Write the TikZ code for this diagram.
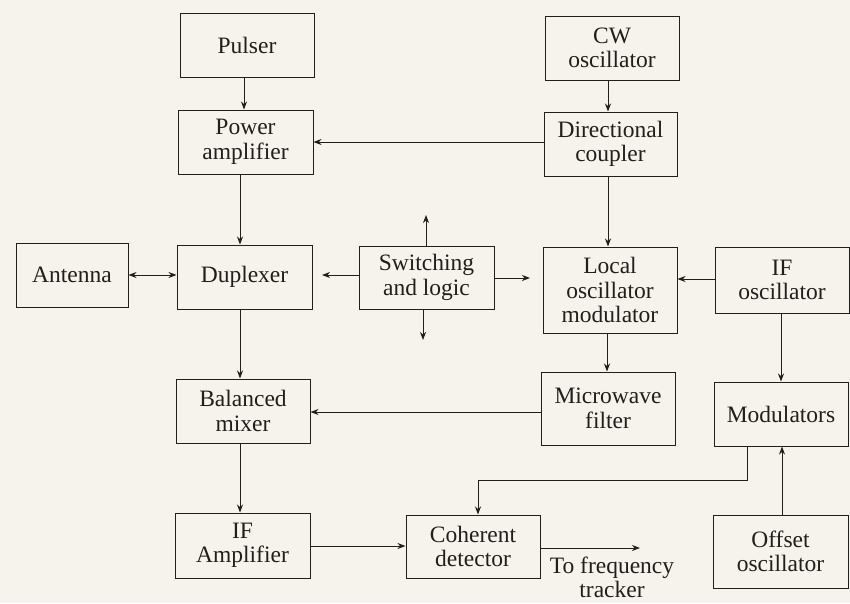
\documentclass[tikz,border=0pt]{standalone}
\usepackage{fontspec}
\setmainfont{Liberation Serif}
\usetikzlibrary{arrows.meta}
\definecolor{paper}{rgb}{0.965,0.95,0.925}
\definecolor{ink}{rgb}{0.13,0.12,0.11}
\begin{document}
\begin{tikzpicture}[x=1pt,y=-1pt,
  box/.style={draw=ink,line width=1pt,align=center,inner sep=0pt,text=ink,
    font=\fontsize{23.5}{24.5}\selectfont},
  arr/.style={draw=ink,line width=1pt,-{Stealth[length=8pt,width=6pt,inset=2.5pt]}},
  darr/.style={draw=ink,line width=1pt,{Stealth[length=8pt,width=6pt,inset=2.5pt]}-{Stealth[length=8pt,width=6pt,inset=2.5pt]}},
  ln/.style={draw=ink,line width=1pt}]
\fill[paper] (0,0) rectangle (850,603);
\useasboundingbox (0,0) rectangle (850,603);
% boxes
\node[box,minimum width=134pt,minimum height=64pt] (pulser) at (247,45) {Pulser};
\node[box,minimum width=135pt,minimum height=64pt] (pa) at (245.5,142) {Power\\amplifier};
\node[box,minimum width=135pt,minimum height=64pt] (dup) at (244.5,277) {Duplexer};
\node[box,minimum width=112pt,minimum height=64pt] (ant) at (72,275) {Antenna};
\node[box,minimum width=135pt,minimum height=63pt] (sw) at (426.5,277.5) {Switching\\and logic};
\node[box,minimum width=134pt,minimum height=64pt] (cw) at (612,48) {CW\\oscillator};
\node[box,minimum width=133pt,minimum height=64pt] (dc) at (610.5,144) {Directional\\coupler};
\node[box,minimum width=134pt,minimum height=86pt] (lom) at (610,290) {Local\\oscillator\\modulator};
\node[box,minimum width=134pt,minimum height=66pt] (ifo) at (782,280) {IF\\oscillator};
\node[box,minimum width=134pt,minimum height=73pt] (mf) at (608,408.5) {Microwave\\filter};
\node[box,minimum width=134pt,minimum height=64pt] (mod) at (781,414) {Modulators};
\node[box,minimum width=134pt,minimum height=64pt] (bm) at (243,411) {Balanced\\mixer};
\node[box,minimum width=135pt,minimum height=65pt] (ifa) at (242.5,545.5) {IF\\Amplifier};
\node[box,minimum width=134pt,minimum height=63pt] (cd) at (473,546.5) {Coherent\\detector};
\node[box,minimum width=135pt,minimum height=73pt] (oo) at (780.5,551.5) {Offset\\oscillator};
\node[box,draw=none,anchor=north,font=\fontsize{23.5}{24.5}\selectfont] (tracker) at (612,556) {To frequency\\tracker};
% free ends
\coordinate (swup) at (426,215);
\coordinate (swdown) at (423,340);
\coordinate (swleft) at (322,275);
\coordinate (swright) at (530,278);
\coordinate (trk) at (640,548);
% connectors
\draw[arr] (pulser.south -| 244,0) -- (pa.north -| 244,0);
\draw[arr] (pa.south -| 240,0) -- (dup.north -| 240,0);
\draw[darr] (ant.east) -- (dup.west |- ant.east);
\draw[arr] (dup.south -| 240,0) -- (bm.north -| 240,0);
\draw[arr] (bm.south -| 240,0) -- (ifa.north -| 240,0);
\draw[arr] (sw.north -| swup) -- (swup);
\draw[arr] (sw.south -| swdown) -- (swdown);
\draw[arr] (sw.west |- swleft) -- (swleft);
\draw[arr] (sw.east |- swright) -- (swright);
\draw[arr] (dc.west |- 0,142) -- (pa.east |- 0,142);
\draw[arr] (cw.south -| 608,0) -- (dc.north -| 608,0);
\draw[arr] (dc.south -| 608,0) -- (lom.north -| 608,0);
\draw[arr] (ifo.west |- 0,279) -- (lom.east |- 0,279);
\draw[arr] (lom.south -| 607,0) -- (mf.north -| 607,0);
\draw[arr] (ifo.south -| 781,0) -- (mod.north -| 781,0);
\draw[arr] (mf.west |- 0,412) -- (bm.east |- 0,412);
\draw[arr] (mod.south -| 747,0) -- (747,480) -- (478,480) -- (cd.north -| 478,0);
\draw[arr] (oo.north -| 782,0) -- (mod.south -| 782,0);
\draw[arr] (ifa.east |- 0,546) -- (cd.west |- 0,546);
\draw[arr] (cd.east |- trk) -- (trk);
\end{tikzpicture}
\end{document}
